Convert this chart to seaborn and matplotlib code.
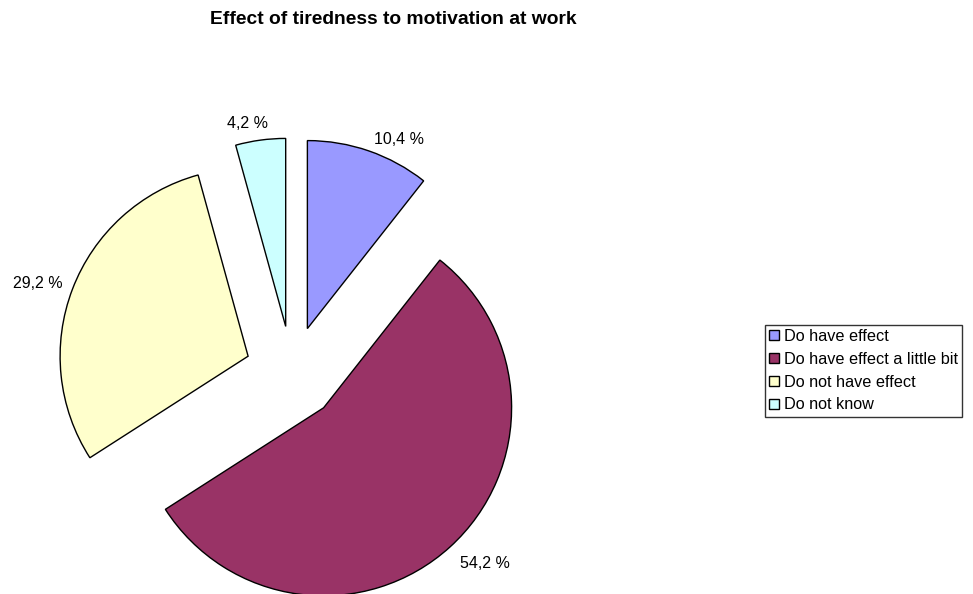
import matplotlib
matplotlib.use("Agg")
import matplotlib.pyplot as plt
import seaborn as sns

# answers to the survey question
categories = ['Do have effect', 'Do have effect a little bit', 'Do not have effect', 'Do not know']
shares = [10.4, 54.2, 29.2, 4.2]
colors = ['#9999FF', '#993366', '#FFFFCC', '#CCFFFF']

sns.set_theme(style="white", rc={'text.color': 'black'})
plt.rcParams['font.family'] = ['Liberation Sans', 'DejaVu Sans']

fig = plt.figure(figsize=(9.73, 5.94), dpi=100)
ax = fig.add_axes([0, 0, 1, 1])

labels = [f"{v:.1f} %".replace('.', ',') for v in shares]
wedges, texts = ax.pie(
    shares,
    colors=colors,
    labels=labels,
    startangle=90,
    counterclock=False,
    explode=[0.25] * len(shares),
    labeldistance=1.08,
    wedgeprops=dict(edgecolor='black', linewidth=1),
    textprops=dict(fontsize=11.5, color='black'),
)

# pie centre at ~(292, 373) px, radius ~188 px
r = 188.0
cx, cy = 292.0, 594 - 373.0
ax.set_xlim(-cx / r, (973 - cx) / r)
ax.set_ylim(-cy / r, (594 - cy) / r)
ax.set_aspect('auto')
ax.axis('off')

# small nudges so the labels sit like Excel placed them
nudges = [(0.0, -0.015), (0.0, -0.03), (0.02, 0.0), (0.05, 0.01)]
for t, (dx, dy) in zip(texts, nudges):
    x, y = t.get_position()
    t.set_position((x + dx, y + dy))

fig.text(0.4044, 0.968, 'Effect of tiredness to motivation at work',
         ha='center', va='center', fontsize=13.9, fontweight='bold', color='black')

leg = fig.legend(wedges, categories, loc='upper left',
                 bbox_to_anchor=(765 / 973, 1 - 325 / 594),
                 fontsize=11.7, frameon=True, fancybox=False,
                 handlelength=0.6, handleheight=0.6, handletextpad=0.3,
                 labelspacing=0.48, borderpad=0.25, borderaxespad=0)
leg.get_frame().set_edgecolor('black')
leg.get_frame().set_linewidth(1)

fig.savefig('out.png', dpi=100)
